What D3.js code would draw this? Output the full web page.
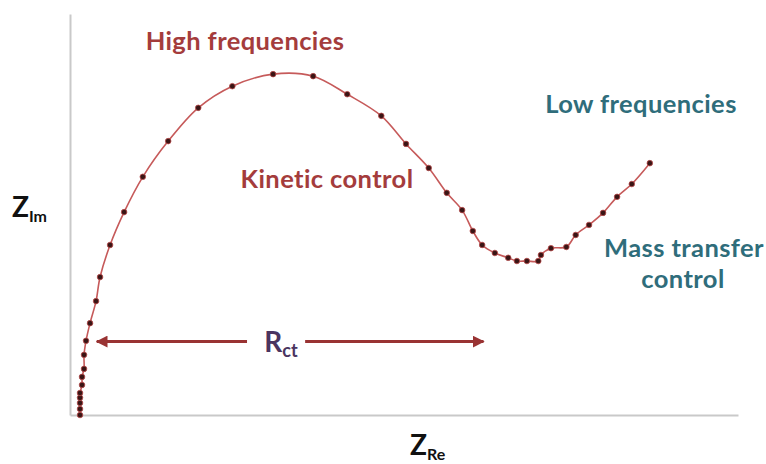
<!DOCTYPE html>
<html><head><meta charset="utf-8">
<script src="https://cdn.jsdelivr.net/npm/d3@7"></script>
<style>
html,body{margin:0;padding:0;background:#fff;}
svg{display:block;}
text{font-family:Lato,"Open Sans",sans-serif;font-weight:700;}
</style></head><body>
<svg id="chart" width="766" height="464"></svg>
<script>
// Nyquist plot data (arbitrary units)
const zRe = [1.5,1.5,1.5,1.5,1.5,1.8,1.8,2.1,2.1,2.4,3.0,3.9,4.5,6.0,8.1,10.9,14.7,19.2,24.3,30.4,36.4,41.5,46.6,50.3,53.7,56.4,58.7,60.3,61.7,63.6,65.6,66.9,68.4,70.1,70.5,72.0,74.3,75.7,77.7,79.8,81.9,84.1,86.8];
const zIm = [0.0,1.5,3.0,4.3,5.5,7.5,9.5,11.5,15.0,18.5,22.9,28.4,34.4,42.4,50.6,59.4,68.3,76.6,82.0,85.0,84.5,80.0,74.6,67.6,61.6,55.4,51.1,45.9,42.4,40.4,39.2,38.4,38.4,38.4,39.9,41.6,41.9,44.9,47.4,50.4,54.4,57.6,62.8];
const rctRange = [4.0, 61.9];
const rctLevel = 18.3;

const svg = d3.select("#chart");
const margin = {left:70, right:28, top:14, bottom:49};
const W = 766, H = 464;
const x = d3.scaleLinear().domain([0,100]).range([margin.left, W-margin.right]);
const y = d3.scaleLinear().domain([0,100]).range([H-margin.bottom, margin.top]);

// axes (no ticks)
const axisColor = "#c9c9c9";
svg.append("g").attr("transform",`translate(0,${y(0)})`)
  .call(d3.axisBottom(x).tickValues([]).tickSizeOuter(0))
  .call(g=>g.select(".domain").attr("stroke",axisColor).attr("stroke-width",2));
svg.append("g").attr("transform",`translate(${x(0)},0)`)
  .call(d3.axisLeft(y).tickValues([]).tickSizeOuter(0))
  .call(g=>g.select(".domain").attr("stroke",axisColor).attr("stroke-width",2));

const pts = zRe.map((v,i)=>[v,zIm[i]]);
const line = d3.line().x(d=>x(d[0])).y(d=>y(d[1])).curve(d3.curveCatmullRom.alpha(0.5));
svg.append("path").datum(pts).attr("d",line).attr("fill","none")
  .attr("stroke","#c65a5a").attr("stroke-width",1.6);
svg.append("g").selectAll("circle").data(pts).join("circle")
  .attr("cx",d=>x(d[0])).attr("cy",d=>y(d[1])).attr("r",2.8)
  .attr("fill","#3a1515").attr("stroke","#b84a4a").attr("stroke-width",0.8);

// Rct arrow
const defs = svg.append("defs");
defs.append("marker").attr("id","ah").attr("viewBox","0 0 10 10").attr("refX",9).attr("refY",5)
  .attr("markerWidth",4).attr("markerHeight",4).attr("orient","auto-start-reverse")
  .append("path").attr("d","M0,0L10,5L0,10Z").attr("fill","#993333");
const arrowY = y(rctLevel);
svg.append("line").attr("x1",x(rctRange[0])).attr("x2",x(26.5)).attr("y1",arrowY).attr("y2",arrowY)
  .attr("stroke","#993333").attr("stroke-width",3).attr("marker-start","url(#ah)");
svg.append("line").attr("x1",x(35.2)).attr("x2",x(rctRange[1])).attr("y1",arrowY).attr("y2",arrowY)
  .attr("stroke","#993333").attr("stroke-width",3).attr("marker-end","url(#ah)");

const red = "#a43c3c", teal = "#2f6d7b";
function label(txt, px, py, color, size, anchor){
  return svg.append("text").attr("x",px).attr("y",py).attr("fill",color)
    .attr("font-size",size).attr("letter-spacing",0.4).attr("text-anchor",anchor||"middle").text(txt);
}
label("High frequencies", 245, 50, red, 25.5);
label("Kinetic control", 327, 188, red, 25.5);
label("Low frequencies", 641, 113, teal, 25.5);
label("Mass transfer", 684, 257, teal, 25.5);
label("control", 683, 288, teal, 25.5);

// Rct
const r = svg.append("text").attr("x",281).attr("y",352).attr("fill","#4a3460").attr("text-anchor","middle");
r.append("tspan").attr("font-size",28).text("R");
r.append("tspan").attr("font-size",18).attr("dy",5).text("ct");

const zi = svg.append("text").attr("x",12).attr("y",217).attr("fill","#111");
zi.append("tspan").attr("font-size",28).text("Z");
zi.append("tspan").attr("font-size",16).attr("dy",5).text("Im");
const zr = svg.append("text").attr("x",410).attr("y",455).attr("fill","#111");
zr.append("tspan").attr("font-size",28).text("Z");
zr.append("tspan").attr("font-size",16).attr("dy",5).text("Re");
</script></body></html>
